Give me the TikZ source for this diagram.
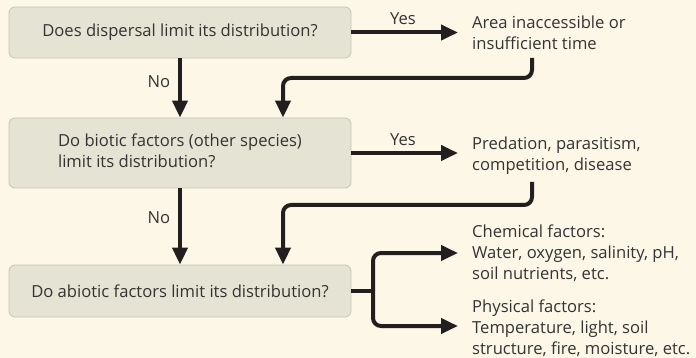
\documentclass[tikz,border=0pt]{standalone}
\usepackage{fontspec}
\setmainfont{Open Sans}
\usetikzlibrary{arrows.meta}
\definecolor{bg}{HTML}{FDF7E7}
\definecolor{boxfill}{HTML}{E5E3D4}
\definecolor{boxline}{HTML}{C6C4B4}
\definecolor{ink}{HTML}{231F20}
\definecolor{txt}{HTML}{333333}
\begin{document}
\begin{tikzpicture}[x=1pt,y=-1pt,
  qbox/.style={draw=boxline,fill=boxfill,rounded corners=6pt,line width=0.8pt,minimum width=342pt,inner sep=0pt,text=txt,font=\fontsize{16.6}{21}\selectfont},
  answer/.style={anchor=west,align=left,inner sep=0pt,text=txt,font=\fontsize{16.6}{21}\selectfont},
  lbl/.style={inner sep=0pt,text=txt,font=\fontsize{16.6}{21}\selectfont},
  arr/.style={draw=ink,line width=4pt,-{Triangle[length=17pt,width=15pt]}},
  conn/.style={draw=ink,line width=4pt}]
\useasboundingbox[fill=bg] (0,0) rectangle (696,358);
% question boxes
\node[qbox,minimum height=51pt] (b1) at (180,32.5) {Does dispersal limit its distribution?};
\node[qbox,minimum height=70pt] (b2) at (180,153) {\begin{tabular}{@{}l@{}}Do biotic factors (other species)\\limit its distribution?\end{tabular}};
\node[qbox,minimum height=52pt] (b3) at (180,291) {Do abiotic factors limit its distribution?};
% answers
\node[answer] (t1) at (472,33) {Area inaccessible or\\insufficient time};
\node[answer] (t2) at (472,156) {Predation, parasitism,\\competition, disease};
\node[answer] (t3) at (472,253) {Chemical factors:\\Water, oxygen, salinity, pH,\\soil nutrients, etc.};
\node[answer] (t4) at (472,328) {Physical factors:\\Temperature, light, soil\\structure, fire, moisture, etc.};
% labels
\node[lbl] (y1) at (403,19) {Yes};
\node[lbl] (y2) at (403,140) {Yes};
\node[lbl] (n1) at (159,82) {No};
\node[lbl] (n2) at (159,218) {No};
% junction coordinates
\coordinate (s1) at (532,58);
\coordinate (j1) at (283,78);
\coordinate (s2) at (532,182);
\coordinate (j2) at (283,205);
\coordinate (k) at (373,291);
% yes arrows
\draw[arr] (b1.east) -- ([xshift=-14pt]t1.west |- b1.east);
\draw[arr] (b2.east) -- ([xshift=-14pt]t2.west |- b2.east);
% no arrows
\draw[arr] (b1.south) -- (b2.north);
\draw[arr] (b2.south) -- (b3.north);
% return arrows
\draw[arr,rounded corners=8pt] (s1) |- (j1) -- (j1 |- b2.north);
\draw[arr,rounded corners=8pt] (s2) |- (j2) -- (j2 |- b3.north);
% abiotic branch
\draw[conn] (b3.east) -- (k);
\draw[arr,rounded corners=8pt] (k) |- ([xshift=-14pt]t3.west);
\draw[arr,rounded corners=8pt] (k) |- ([xshift=-14pt,yshift=2pt]t4.west);
\end{tikzpicture}
\end{document}
